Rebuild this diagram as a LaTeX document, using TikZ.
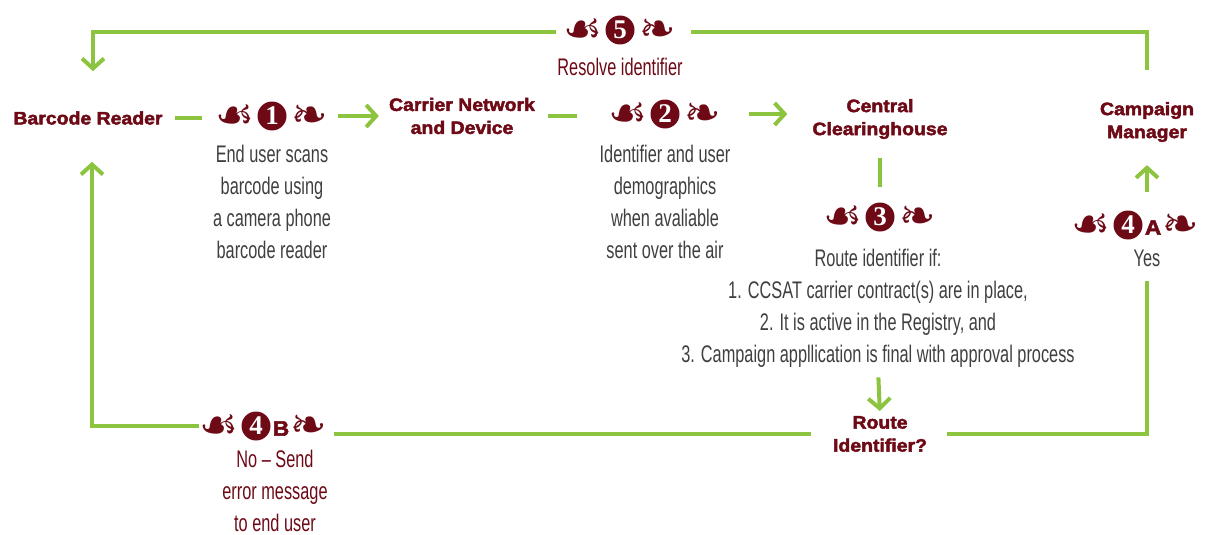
\documentclass[tikz,border=0pt]{standalone}
\usepackage{fontspec}
\usepackage{graphicx}
\setmainfont{Liberation Sans}
\newfontfamily\condf[FakeStretch=0.68]{Liberation Sans}
\newfontfamily\heavyf[FakeBold=2.5,FakeStretch=1.08]{Liberation Sans Bold}
\newfontfamily\ornf{DejaVu Sans}
\newfontfamily\numf{Liberation Serif}
\usetikzlibrary{arrows.meta}
\definecolor{maroon}{HTML}{6D0A16}
\definecolor{lgreen}{HTML}{8CC43F}
\definecolor{txtgray}{HTML}{3F3F3F}
\tikzset{
  lbl/.style={font=\heavyf\fontsize{18}{23}\selectfont, text=maroon, align=center, inner sep=0},
  desc/.style={font=\condf\fontsize{24}{32}\selectfont, text=txtgray, align=center, inner sep=0},
  mdesc/.style={desc, text=maroon},
  numc/.style={circle, fill=maroon, minimum size=29, inner sep=0, text=white, font=\numf\bfseries\fontsize{27}{27}\selectfont},
  orn/.style={font=\ornf\fontsize{30}{30}\selectfont, text=maroon, inner sep=0},
  letr/.style={font=\heavyf\fontsize{21}{21}\selectfont, text=maroon, inner sep=0},
  gl/.style={draw=lgreen, line width=4},
  ga/.style={gl, -{Straight Barb[length=10pt,width=22pt]}}
}
\newcommand\ornset[4]{%
  \node[numc] (#1n) at (#2) {#3};
  \node[orn, anchor=east] (#1l) at ([xshift=-3,yshift=-2]#1n.west) {\scalebox{1.45}[1.5]{☙}};
  \node[letr, anchor=west] (#1x) at ([xshift=2,yshift=-2.5]#1n.east) {#4};
  \node[orn, anchor=west] (#1r) at ([xshift=1,yshift=-2]#1x.east |- #1n.east) {\scalebox{1.45}[1.5]{❧}};
}
\begin{document}
\begin{tikzpicture}[x=1pt,y=-1pt]
\useasboundingbox (0,0) rectangle (1212,535);
% main labels
\node[lbl] (br) at (88,118) {Barcode Reader};
\node[lbl] (cnd) at (462,116) {Carrier Network\\and Device};
\node[lbl] (cc) at (880,119) {Central\\Clearinghouse};
\node[lbl] (cm) at (1147,122) {Campaign\\Manager};
\node[lbl] (ri) at (880,434) {Route\\Identifier?};
% ornaments
\ornset{o1}{272,116}{1}{}
\ornset{o2}{665,114}{2}{}
\ornset{o3}{880,217}{3}{}
\ornset{o4a}{1128,225}{4}{A}
\ornset{o4b}{256,426}{4}{B}
\ornset{o5}{620,30}{5}{}
% descriptions
\node[desc] (t1) at (272,202) {End user scans\\barcode using\\a camera phone\\barcode reader};
\node[desc] (t2) at (665,202) {Identifier and user\\demographics\\when avaliable\\sent over the air};
\node[desc] (t3) at (878,308) {Route identifier if:\\1. CCSAT carrier contract(s) are in place,\\2. It is active in the Registry, and\\3. Campaign appllication is final with approval process};
\node[desc] (t4a) at (1147,258) {Yes};
\node[mdesc] (t4b) at (275,491) {No – Send\\error message\\to end user};
\node[mdesc] (t5) at (620,67) {Resolve identifier};
% connectors
\draw[gl, shorten <=12, shorten >=13] (br.east) -- (br.east -| o1l.west);
\draw[ga, shorten <=10, shorten >=10] (o1n.east -| o1r.east) -- (o1n.east -| cnd.west);
\draw[gl, shorten <=13, shorten >=31] (cnd.east) -- (cnd.east -| o2l.west);
\draw[ga, shorten <=28, shorten >=25] (o2n.east -| o2r.east) -- (o2n.east -| cc.west);
\draw[gl, shorten <=19, shorten >=15] (cc.south) -- (o3n.north);
\draw[ga, shorten <=10, shorten >=5] (t3.south) -- (ri.north);
\draw[gl, shorten <=22, shorten >=7] (ri.west) -- (ri.west -| o4br.east);
\draw[ga, shorten >=37] (o4bn.west -| o4bl.west) -| ([xshift=4]br.south);
\draw[gl, shorten <=20, shorten >=14] (ri.east) -| (t4a.south);
\draw[ga, shorten <=18, shorten >=23] (o4an.north -| cm.south) -- (cm.south);
\draw[gl, shorten <=32, shorten >=15] (cm.north) |- (o5r.east);
\draw[ga, shorten <=7, shorten >=40] (o5l.west) -| ([xshift=5]br.north);
\end{tikzpicture}
\end{document}
